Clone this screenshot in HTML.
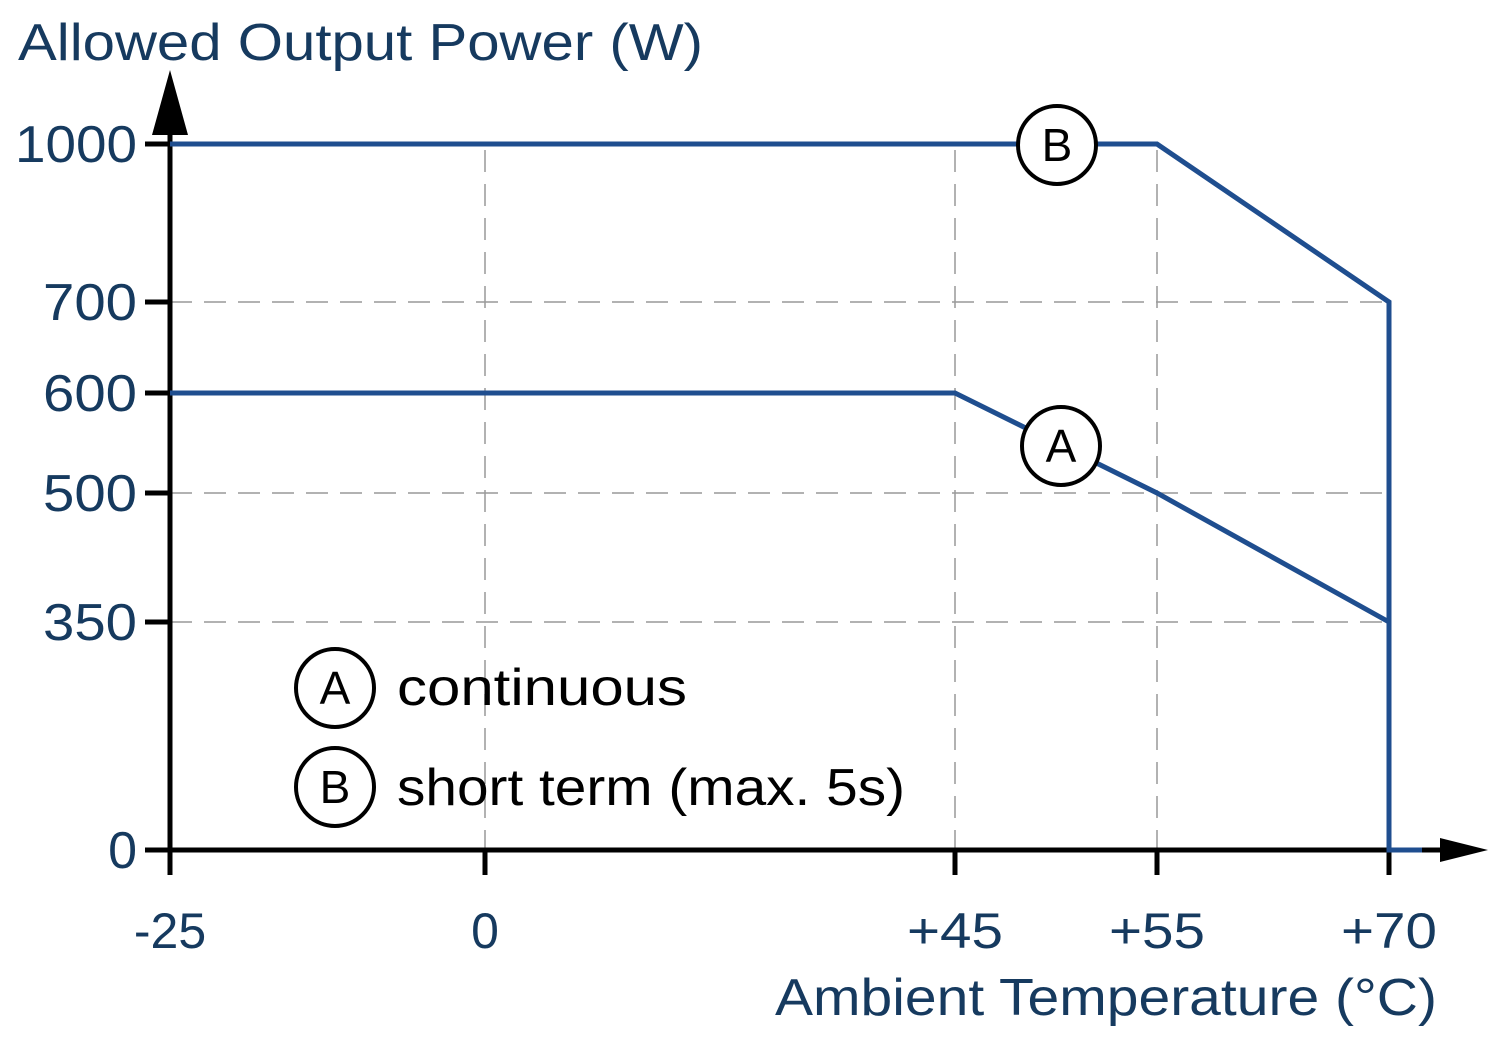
<!DOCTYPE html>
<html><head><style>body{margin:0;background:#fff}svg{display:block}</style></head><body>
<svg width="1500" height="1045" viewBox="0 0 1500 1045" xmlns="http://www.w3.org/2000/svg">
<g font-family="Liberation Sans, sans-serif" fill="#163a5f">
<text x="18" y="60" font-size="52" textLength="685" lengthAdjust="spacingAndGlyphs">Allowed Output Power (W)</text>
<g font-size="52" text-anchor="end">
<text x="137" y="162" textLength="122" lengthAdjust="spacingAndGlyphs">1000</text>
<text x="137" y="320" textLength="94" lengthAdjust="spacingAndGlyphs">700</text>
<text x="137" y="411" textLength="94" lengthAdjust="spacingAndGlyphs">600</text>
<text x="137" y="511" textLength="94" lengthAdjust="spacingAndGlyphs">500</text>
<text x="137" y="640" textLength="94" lengthAdjust="spacingAndGlyphs">350</text>
<text x="137" y="868">0</text>
</g>
<g font-size="50" text-anchor="middle">
<text x="170" y="948">-25</text>
<text x="485" y="948">0</text>
<text x="955" y="948" textLength="96" lengthAdjust="spacingAndGlyphs">+45</text>
<text x="1157" y="948" textLength="96" lengthAdjust="spacingAndGlyphs">+55</text>
<text x="1389" y="948" textLength="96" lengthAdjust="spacingAndGlyphs">+70</text>
</g>
<text x="775" y="1015" font-size="52" textLength="662" lengthAdjust="spacingAndGlyphs">Ambient Temperature (°C)</text>
</g>
<g stroke="#999" stroke-width="1.5" stroke-dasharray="22,12" fill="none">
<line x1="170" y1="302" x2="1389" y2="302"/>
<line x1="170" y1="493" x2="1389" y2="493"/>
<line x1="170" y1="622" x2="1389" y2="622"/>
<line x1="485" y1="150" x2="485" y2="850"/>
<line x1="955" y1="150" x2="955" y2="850"/>
<line x1="1157" y1="150" x2="1157" y2="850"/>
</g>
<g stroke="#000" stroke-width="5" fill="none">
<line x1="170" y1="130" x2="170" y2="875"/>
<line x1="145" y1="850" x2="1445" y2="850"/>
<line x1="145" y1="144" x2="170" y2="144"/>
<line x1="145" y1="302" x2="170" y2="302"/>
<line x1="145" y1="393" x2="170" y2="393"/>
<line x1="145" y1="493" x2="170" y2="493"/>
<line x1="145" y1="622" x2="170" y2="622"/>
<line x1="485" y1="850" x2="485" y2="875"/>
<line x1="955" y1="850" x2="955" y2="875"/>
<line x1="1157" y1="850" x2="1157" y2="875"/>
<line x1="1389" y1="850" x2="1389" y2="875"/>
</g>
<polygon points="170,70 152,135 188,135" fill="#000"/>
<polygon points="1488,850 1440,838 1440,862" fill="#000"/>
<g stroke="#1f4e8f" stroke-width="5" fill="none">
<polyline points="170,144 1157,144 1389,302 1389,850 1422,850"/>
<polyline points="170,393 955,393 1157,493 1389,622"/>
</g>
<g stroke="#000" stroke-width="4" fill="#fff">
<circle cx="1057" cy="145" r="39"/>
<circle cx="1061" cy="446" r="39"/>
<circle cx="335" cy="688" r="39"/>
<circle cx="335" cy="787" r="39"/>
</g>
<g font-family="Liberation Sans, sans-serif" font-size="46" text-anchor="middle" fill="#000">
<text x="1057" y="161">B</text>
<text x="1061" y="462">A</text>
<text x="335" y="704">A</text>
<text x="335" y="803">B</text>
</g>
<g font-family="Liberation Sans, sans-serif" font-size="52" fill="#000">
<text x="397" y="705" textLength="290" lengthAdjust="spacingAndGlyphs">continuous</text>
<text x="397" y="805" textLength="508" lengthAdjust="spacingAndGlyphs">short term (max. 5s)</text>
</g>
</svg>
</body></html>
